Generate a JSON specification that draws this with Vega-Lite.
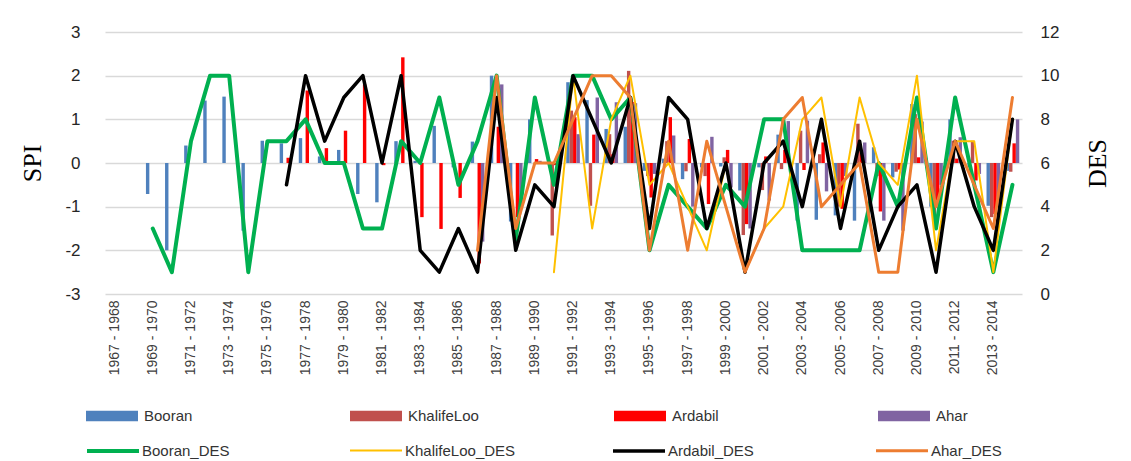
{
"$schema":"https://vega.github.io/schema/vega-lite/v6.json",
"width":917,"height":262,
"autosize":{"type":"none"},
"padding":{"left":105,"top":32,"right":109,"bottom":167},
"background":"white",
"config":{"view":{"stroke":null},"font":"Liberation Sans"},
"datasets":{
"spi":[
{"period":"1969 - 1970","station":"Booran","spi":-0.71},{"period":"1970 - 1971","station":"Booran","spi":-2.0},{"period":"1971 - 1972","station":"Booran","spi":0.4},{"period":"1972 - 1973","station":"Booran","spi":1.43},{"period":"1973 - 1974","station":"Booran","spi":1.52},{"period":"1974 - 1975","station":"Booran","spi":-1.55},{"period":"1975 - 1976","station":"Booran","spi":0.51},{"period":"1976 - 1977","station":"Booran","spi":0.45},{"period":"1977 - 1978","station":"Booran","spi":0.57},{"period":"1978 - 1979","station":"Booran","spi":0.15},{"period":"1979 - 1980","station":"Booran","spi":0.3},{"period":"1980 - 1981","station":"Booran","spi":-0.71},{"period":"1981 - 1982","station":"Booran","spi":-0.9},{"period":"1982 - 1983","station":"Booran","spi":0.5},{"period":"1983 - 1984","station":"Booran","spi":0.05},{"period":"1984 - 1985","station":"Booran","spi":0.85},{"period":"1985 - 1986","station":"Booran","spi":-0.1},{"period":"1986 - 1987","station":"Booran","spi":0.49},{"period":"1987 - 1988","station":"Booran","spi":2.0},{"period":"1988 - 1989","station":"Booran","spi":-1.34},{"period":"1989 - 1990","station":"Booran","spi":1.0},{"period":"1990 - 1991","station":"Booran","spi":0.05},{"period":"1991 - 1992","station":"Booran","spi":1.85},{"period":"1992 - 1993","station":"Booran","spi":1.44},{"period":"1993 - 1994","station":"Booran","spi":0.78},{"period":"1994 - 1995","station":"Booran","spi":0.83},{"period":"1995 - 1996","station":"Booran","spi":-0.18},{"period":"1996 - 1997","station":"Booran","spi":0.1},{"period":"1997 - 1998","station":"Booran","spi":-0.37},{"period":"1998 - 1999","station":"Booran","spi":-0.1},{"period":"1999 - 2000","station":"Booran","spi":-0.08},{"period":"2000 - 2001","station":"Booran","spi":-0.63},{"period":"2001 - 2002","station":"Booran","spi":-0.1},{"period":"2002 - 2003","station":"Booran","spi":0.65},{"period":"2003 - 2004","station":"Booran","spi":-1.32},{"period":"2004 - 2005","station":"Booran","spi":-1.3},{"period":"2005 - 2006","station":"Booran","spi":-1.2},{"period":"2006 - 2007","station":"Booran","spi":-1.32},{"period":"2007 - 2008","station":"Booran","spi":0.36},{"period":"2008 - 2009","station":"Booran","spi":-0.33},{"period":"2009 - 2010","station":"Booran","spi":1.35},{"period":"2010 - 2011","station":"Booran","spi":-1.0},{"period":"2011 - 2012","station":"Booran","spi":1.0},{"period":"2012 - 2013","station":"Booran","spi":-0.1},{"period":"2013 - 2014","station":"Booran","spi":-0.98},{"period":"2014 - 2015","station":"Booran","spi":-0.18},
{"period":"1990 - 1991","station":"KhalifeLoo","spi":-1.66},{"period":"1991 - 1992","station":"KhalifeLoo","spi":1.2},{"period":"1992 - 1993","station":"KhalifeLoo","spi":-0.98},{"period":"1993 - 1994","station":"KhalifeLoo","spi":0.66},{"period":"1994 - 1995","station":"KhalifeLoo","spi":2.11},{"period":"1995 - 1996","station":"KhalifeLoo","spi":-0.3},{"period":"1996 - 1997","station":"KhalifeLoo","spi":0.5},{"period":"1997 - 1998","station":"KhalifeLoo","spi":-0.19},{"period":"1998 - 1999","station":"KhalifeLoo","spi":-0.3},{"period":"1999 - 2000","station":"KhalifeLoo","spi":0.13},{"period":"2000 - 2001","station":"KhalifeLoo","spi":-1.65},{"period":"2001 - 2002","station":"KhalifeLoo","spi":-0.62},{"period":"2002 - 2003","station":"KhalifeLoo","spi":-0.14},{"period":"2003 - 2004","station":"KhalifeLoo","spi":0.74},{"period":"2004 - 2005","station":"KhalifeLoo","spi":0.2},{"period":"2005 - 2006","station":"KhalifeLoo","spi":-1.0},{"period":"2006 - 2007","station":"KhalifeLoo","spi":0.9},{"period":"2007 - 2008","station":"KhalifeLoo","spi":-0.3},{"period":"2008 - 2009","station":"KhalifeLoo","spi":-0.2},{"period":"2009 - 2010","station":"KhalifeLoo","spi":1.12},{"period":"2010 - 2011","station":"KhalifeLoo","spi":-1.32},{"period":"2011 - 2012","station":"KhalifeLoo","spi":0.51},{"period":"2012 - 2013","station":"KhalifeLoo","spi":0.51},{"period":"2013 - 2014","station":"KhalifeLoo","spi":-1.24},{"period":"2014 - 2015","station":"KhalifeLoo","spi":-0.2},
{"period":"1976 - 1977","station":"Ardabil","spi":0.12},{"period":"1977 - 1978","station":"Ardabil","spi":1.66},{"period":"1978 - 1979","station":"Ardabil","spi":0.34},{"period":"1979 - 1980","station":"Ardabil","spi":0.74},{"period":"1980 - 1981","station":"Ardabil","spi":1.8},{"period":"1981 - 1982","station":"Ardabil","spi":-0.05},{"period":"1982 - 1983","station":"Ardabil","spi":2.42},{"period":"1983 - 1984","station":"Ardabil","spi":-1.24},{"period":"1984 - 1985","station":"Ardabil","spi":-1.51},{"period":"1985 - 1986","station":"Ardabil","spi":-0.8},{"period":"1986 - 1987","station":"Ardabil","spi":-2.3},{"period":"1987 - 1988","station":"Ardabil","spi":0.83},{"period":"1988 - 1989","station":"Ardabil","spi":-1.24},{"period":"1989 - 1990","station":"Ardabil","spi":0.09},{"period":"1990 - 1991","station":"Ardabil","spi":-0.05},{"period":"1991 - 1992","station":"Ardabil","spi":1.05},{"period":"1992 - 1993","station":"Ardabil","spi":0.65},{"period":"1993 - 1994","station":"Ardabil","spi":0.2},{"period":"1994 - 1995","station":"Ardabil","spi":1.4},{"period":"1995 - 1996","station":"Ardabil","spi":-0.79},{"period":"1996 - 1997","station":"Ardabil","spi":1.05},{"period":"1997 - 1998","station":"Ardabil","spi":0.55},{"period":"1998 - 1999","station":"Ardabil","spi":-0.94},{"period":"1999 - 2000","station":"Ardabil","spi":0.3},{"period":"2000 - 2001","station":"Ardabil","spi":-1.4},{"period":"2001 - 2002","station":"Ardabil","spi":0.15},{"period":"2002 - 2003","station":"Ardabil","spi":0.3},{"period":"2003 - 2004","station":"Ardabil","spi":-0.16},{"period":"2004 - 2005","station":"Ardabil","spi":0.47},{"period":"2005 - 2006","station":"Ardabil","spi":-1.05},{"period":"2006 - 2007","station":"Ardabil","spi":0.3},{"period":"2007 - 2008","station":"Ardabil","spi":-1.11},{"period":"2008 - 2009","station":"Ardabil","spi":-0.15},{"period":"2009 - 2010","station":"Ardabil","spi":0.13},{"period":"2010 - 2011","station":"Ardabil","spi":-0.86},{"period":"2011 - 2012","station":"Ardabil","spi":0.1},{"period":"2012 - 2013","station":"Ardabil","spi":-0.4},{"period":"2013 - 2014","station":"Ardabil","spi":-1.17},{"period":"2014 - 2015","station":"Ardabil","spi":0.45},
{"period":"1986 - 1987","station":"Ahar","spi":-1.8},{"period":"1987 - 1988","station":"Ahar","spi":1.8},{"period":"1988 - 1989","station":"Ahar","spi":-0.9},{"period":"1989 - 1990","station":"Ahar","spi":0.05},{"period":"1990 - 1991","station":"Ahar","spi":-0.1},{"period":"1991 - 1992","station":"Ahar","spi":0.66},{"period":"1992 - 1993","station":"Ahar","spi":1.5},{"period":"1993 - 1994","station":"Ahar","spi":1.39},{"period":"1994 - 1995","station":"Ahar","spi":1.37},{"period":"1995 - 1996","station":"Ahar","spi":-0.25},{"period":"1996 - 1997","station":"Ahar","spi":0.63},{"period":"1997 - 1998","station":"Ahar","spi":-1.0},{"period":"1998 - 1999","station":"Ahar","spi":0.6},{"period":"1999 - 2000","station":"Ahar","spi":-0.56},{"period":"2000 - 2001","station":"Ahar","spi":-1.5},{"period":"2001 - 2002","station":"Ahar","spi":-0.86},{"period":"2002 - 2003","station":"Ahar","spi":0.96},{"period":"2003 - 2004","station":"Ahar","spi":0.97},{"period":"2004 - 2005","station":"Ahar","spi":-0.65},{"period":"2005 - 2006","station":"Ahar","spi":-0.3},{"period":"2006 - 2007","station":"Ahar","spi":0.47},{"period":"2007 - 2008","station":"Ahar","spi":-1.32},{"period":"2008 - 2009","station":"Ahar","spi":-1.55},{"period":"2009 - 2010","station":"Ahar","spi":0.95},{"period":"2010 - 2011","station":"Ahar","spi":-0.5},{"period":"2011 - 2012","station":"Ahar","spi":0.59},{"period":"2012 - 2013","station":"Ahar","spi":-0.25},{"period":"2013 - 2014","station":"Ahar","spi":-1.0},{"period":"2014 - 2015","station":"Ahar","spi":1.0}
],
"des":[
{"period":"1969 - 1970","series":"Booran_DES","des":3},{"period":"1970 - 1971","series":"Booran_DES","des":1},{"period":"1971 - 1972","series":"Booran_DES","des":7},{"period":"1972 - 1973","series":"Booran_DES","des":10},{"period":"1973 - 1974","series":"Booran_DES","des":10},{"period":"1974 - 1975","series":"Booran_DES","des":1},{"period":"1975 - 1976","series":"Booran_DES","des":7},{"period":"1976 - 1977","series":"Booran_DES","des":7},{"period":"1977 - 1978","series":"Booran_DES","des":8},{"period":"1978 - 1979","series":"Booran_DES","des":6},{"period":"1979 - 1980","series":"Booran_DES","des":6},{"period":"1980 - 1981","series":"Booran_DES","des":3},{"period":"1981 - 1982","series":"Booran_DES","des":3},{"period":"1982 - 1983","series":"Booran_DES","des":7},{"period":"1983 - 1984","series":"Booran_DES","des":6},{"period":"1984 - 1985","series":"Booran_DES","des":9},{"period":"1985 - 1986","series":"Booran_DES","des":5},{"period":"1986 - 1987","series":"Booran_DES","des":7},{"period":"1987 - 1988","series":"Booran_DES","des":10},{"period":"1988 - 1989","series":"Booran_DES","des":2.5},{"period":"1989 - 1990","series":"Booran_DES","des":9},{"period":"1990 - 1991","series":"Booran_DES","des":5},{"period":"1991 - 1992","series":"Booran_DES","des":10},{"period":"1992 - 1993","series":"Booran_DES","des":10},{"period":"1993 - 1994","series":"Booran_DES","des":8},{"period":"1994 - 1995","series":"Booran_DES","des":9},{"period":"1995 - 1996","series":"Booran_DES","des":2},{"period":"1996 - 1997","series":"Booran_DES","des":5},{"period":"1997 - 1998","series":"Booran_DES","des":4},{"period":"1998 - 1999","series":"Booran_DES","des":3},{"period":"1999 - 2000","series":"Booran_DES","des":5},{"period":"2000 - 2001","series":"Booran_DES","des":4},{"period":"2001 - 2002","series":"Booran_DES","des":8},{"period":"2002 - 2003","series":"Booran_DES","des":8},{"period":"2003 - 2004","series":"Booran_DES","des":2},{"period":"2004 - 2005","series":"Booran_DES","des":2},{"period":"2005 - 2006","series":"Booran_DES","des":2},{"period":"2006 - 2007","series":"Booran_DES","des":2},{"period":"2007 - 2008","series":"Booran_DES","des":6},{"period":"2008 - 2009","series":"Booran_DES","des":4},{"period":"2009 - 2010","series":"Booran_DES","des":9},{"period":"2010 - 2011","series":"Booran_DES","des":3},{"period":"2011 - 2012","series":"Booran_DES","des":9},{"period":"2012 - 2013","series":"Booran_DES","des":5},{"period":"2013 - 2014","series":"Booran_DES","des":1},{"period":"2014 - 2015","series":"Booran_DES","des":5},
{"period":"1990 - 1991","series":"KhalifeLoo_DES","des":1},{"period":"1991 - 1992","series":"KhalifeLoo_DES","des":10},{"period":"1992 - 1993","series":"KhalifeLoo_DES","des":3},{"period":"1993 - 1994","series":"KhalifeLoo_DES","des":8},{"period":"1994 - 1995","series":"KhalifeLoo_DES","des":10},{"period":"1995 - 1996","series":"KhalifeLoo_DES","des":5},{"period":"1996 - 1997","series":"KhalifeLoo_DES","des":6},{"period":"1997 - 1998","series":"KhalifeLoo_DES","des":4},{"period":"1998 - 1999","series":"KhalifeLoo_DES","des":2},{"period":"1999 - 2000","series":"KhalifeLoo_DES","des":6},{"period":"2000 - 2001","series":"KhalifeLoo_DES","des":1},{"period":"2001 - 2002","series":"KhalifeLoo_DES","des":3},{"period":"2002 - 2003","series":"KhalifeLoo_DES","des":4},{"period":"2003 - 2004","series":"KhalifeLoo_DES","des":8},{"period":"2004 - 2005","series":"KhalifeLoo_DES","des":9},{"period":"2005 - 2006","series":"KhalifeLoo_DES","des":4},{"period":"2006 - 2007","series":"KhalifeLoo_DES","des":9},{"period":"2007 - 2008","series":"KhalifeLoo_DES","des":6},{"period":"2008 - 2009","series":"KhalifeLoo_DES","des":5},{"period":"2009 - 2010","series":"KhalifeLoo_DES","des":10},{"period":"2010 - 2011","series":"KhalifeLoo_DES","des":2},{"period":"2011 - 2012","series":"KhalifeLoo_DES","des":7},{"period":"2012 - 2013","series":"KhalifeLoo_DES","des":7},{"period":"2013 - 2014","series":"KhalifeLoo_DES","des":1},{"period":"2014 - 2015","series":"KhalifeLoo_DES","des":8},
{"period":"1976 - 1977","series":"Ardabil_DES","des":5},{"period":"1977 - 1978","series":"Ardabil_DES","des":10},{"period":"1978 - 1979","series":"Ardabil_DES","des":7},{"period":"1979 - 1980","series":"Ardabil_DES","des":9},{"period":"1980 - 1981","series":"Ardabil_DES","des":10},{"period":"1981 - 1982","series":"Ardabil_DES","des":6},{"period":"1982 - 1983","series":"Ardabil_DES","des":10},{"period":"1983 - 1984","series":"Ardabil_DES","des":2},{"period":"1984 - 1985","series":"Ardabil_DES","des":1},{"period":"1985 - 1986","series":"Ardabil_DES","des":3},{"period":"1986 - 1987","series":"Ardabil_DES","des":1},{"period":"1987 - 1988","series":"Ardabil_DES","des":9},{"period":"1988 - 1989","series":"Ardabil_DES","des":2},{"period":"1989 - 1990","series":"Ardabil_DES","des":5},{"period":"1990 - 1991","series":"Ardabil_DES","des":4},{"period":"1991 - 1992","series":"Ardabil_DES","des":10},{"period":"1992 - 1993","series":"Ardabil_DES","des":8},{"period":"1993 - 1994","series":"Ardabil_DES","des":6},{"period":"1994 - 1995","series":"Ardabil_DES","des":9},{"period":"1995 - 1996","series":"Ardabil_DES","des":3},{"period":"1996 - 1997","series":"Ardabil_DES","des":9},{"period":"1997 - 1998","series":"Ardabil_DES","des":8},{"period":"1998 - 1999","series":"Ardabil_DES","des":3},{"period":"1999 - 2000","series":"Ardabil_DES","des":6},{"period":"2000 - 2001","series":"Ardabil_DES","des":1},{"period":"2001 - 2002","series":"Ardabil_DES","des":6},{"period":"2002 - 2003","series":"Ardabil_DES","des":7},{"period":"2003 - 2004","series":"Ardabil_DES","des":4},{"period":"2004 - 2005","series":"Ardabil_DES","des":8},{"period":"2005 - 2006","series":"Ardabil_DES","des":3},{"period":"2006 - 2007","series":"Ardabil_DES","des":7},{"period":"2007 - 2008","series":"Ardabil_DES","des":2},{"period":"2008 - 2009","series":"Ardabil_DES","des":4},{"period":"2009 - 2010","series":"Ardabil_DES","des":5},{"period":"2010 - 2011","series":"Ardabil_DES","des":1},{"period":"2011 - 2012","series":"Ardabil_DES","des":7},{"period":"2012 - 2013","series":"Ardabil_DES","des":4},{"period":"2013 - 2014","series":"Ardabil_DES","des":2},{"period":"2014 - 2015","series":"Ardabil_DES","des":8},
{"period":"1986 - 1987","series":"Ahar_DES","des":2},{"period":"1987 - 1988","series":"Ahar_DES","des":10},{"period":"1988 - 1989","series":"Ahar_DES","des":3},{"period":"1989 - 1990","series":"Ahar_DES","des":6},{"period":"1990 - 1991","series":"Ahar_DES","des":6},{"period":"1991 - 1992","series":"Ahar_DES","des":8},{"period":"1992 - 1993","series":"Ahar_DES","des":10},{"period":"1993 - 1994","series":"Ahar_DES","des":10},{"period":"1994 - 1995","series":"Ahar_DES","des":9},{"period":"1995 - 1996","series":"Ahar_DES","des":2},{"period":"1996 - 1997","series":"Ahar_DES","des":7},{"period":"1997 - 1998","series":"Ahar_DES","des":2},{"period":"1998 - 1999","series":"Ahar_DES","des":7},{"period":"1999 - 2000","series":"Ahar_DES","des":4},{"period":"2000 - 2001","series":"Ahar_DES","des":1},{"period":"2001 - 2002","series":"Ahar_DES","des":3},{"period":"2002 - 2003","series":"Ahar_DES","des":8},{"period":"2003 - 2004","series":"Ahar_DES","des":9},{"period":"2004 - 2005","series":"Ahar_DES","des":4},{"period":"2005 - 2006","series":"Ahar_DES","des":5},{"period":"2006 - 2007","series":"Ahar_DES","des":6},{"period":"2007 - 2008","series":"Ahar_DES","des":1},{"period":"2008 - 2009","series":"Ahar_DES","des":1},{"period":"2009 - 2010","series":"Ahar_DES","des":8},{"period":"2010 - 2011","series":"Ahar_DES","des":4},{"period":"2011 - 2012","series":"Ahar_DES","des":7},{"period":"2012 - 2013","series":"Ahar_DES","des":5},{"period":"2013 - 2014","series":"Ahar_DES","des":3},{"period":"2014 - 2015","series":"Ahar_DES","des":9}
]
},
"layer":[
{
"data":{"name":"spi"},
"mark":{"type":"bar"},
"encoding":{
"x":{"field":"period","type":"nominal","title":null,
"scale":{"domain":["1967 - 1968","1968 - 1969","1969 - 1970","1970 - 1971","1971 - 1972","1972 - 1973","1973 - 1974","1974 - 1975","1975 - 1976","1976 - 1977","1977 - 1978","1978 - 1979","1979 - 1980","1980 - 1981","1981 - 1982","1982 - 1983","1983 - 1984","1984 - 1985","1985 - 1986","1986 - 1987","1987 - 1988","1988 - 1989","1989 - 1990","1990 - 1991","1991 - 1992","1992 - 1993","1993 - 1994","1994 - 1995","1995 - 1996","1996 - 1997","1997 - 1998","1998 - 1999","1999 - 2000","2000 - 2001","2001 - 2002","2002 - 2003","2003 - 2004","2004 - 2005","2005 - 2006","2006 - 2007","2007 - 2008","2008 - 2009","2009 - 2010","2010 - 2011","2011 - 2012","2012 - 2013","2013 - 2014","2014 - 2015"],"paddingInner":0,"paddingOuter":0},
"axis":{"values":["1967 - 1968","1969 - 1970","1971 - 1972","1973 - 1974","1975 - 1976","1977 - 1978","1979 - 1980","1981 - 1982","1983 - 1984","1985 - 1986","1987 - 1988","1989 - 1990","1991 - 1992","1993 - 1994","1995 - 1996","1997 - 1998","1999 - 2000","2001 - 2002","2003 - 2004","2005 - 2006","2007 - 2008","2009 - 2010","2011 - 2012","2013 - 2014"],"labelAngle":270,"labelFontSize":14,"labelPadding":6,"labelColor":"#404040","ticks":false,"domain":false,"grid":false}},
"xOffset":{"field":"station","type":"nominal","scale":{"domain":["Booran","KhalifeLoo","Ardabil","Ahar"],"paddingInner":0,"paddingOuter":0.8}},
"y":{"field":"spi","type":"quantitative","scale":{"domain":[-3,3],"nice":false,"zero":false},
"axis":{"orient":"left","values":[-3,-2,-1,0,1,2,3],"labelExpr":"'' + datum.value","grid":true,"gridColor":"#d9d9d9","gridWidth":1.5,"domain":false,"ticks":false,"labelFontSize":17,"labelPadding":25,"labelColor":"#262626","title":"SPI","titleFont":"Liberation Serif","titleFontSize":26,"titleFontWeight":"normal","titleColor":"#000000","titleAngle":270,"titleX":-73,"titleY":131,"titleAlign":"center","titleBaseline":"middle"}},
"fill":{"field":"station","type":"nominal","scale":{"domain":["Booran","KhalifeLoo","Ardabil","Ahar"],"range":["#4f81bd","#c0504d","#ff0000","#8064a2"]},
"legend":{"title":null,"orient":"none","legendX":-20,"legendY":357,"direction":"horizontal","columns":4,"columnPadding":134,"gridAlign":"all","symbolType":"M-1,-0.206H1V0.206H-1Z","symbolSize":2704,"labelFontSize":15,"labelOffset":5,"labelColor":"#333333","padding":0}}
}
},
{
"data":{"name":"des"},
"encoding":{
"x":{"field":"period","type":"nominal","scale":{"domain":["1967 - 1968","1968 - 1969","1969 - 1970","1970 - 1971","1971 - 1972","1972 - 1973","1973 - 1974","1974 - 1975","1975 - 1976","1976 - 1977","1977 - 1978","1978 - 1979","1979 - 1980","1980 - 1981","1981 - 1982","1982 - 1983","1983 - 1984","1984 - 1985","1985 - 1986","1986 - 1987","1987 - 1988","1988 - 1989","1989 - 1990","1990 - 1991","1991 - 1992","1992 - 1993","1993 - 1994","1994 - 1995","1995 - 1996","1996 - 1997","1997 - 1998","1998 - 1999","1999 - 2000","2000 - 2001","2001 - 2002","2002 - 2003","2003 - 2004","2004 - 2005","2005 - 2006","2006 - 2007","2007 - 2008","2008 - 2009","2009 - 2010","2010 - 2011","2011 - 2012","2012 - 2013","2013 - 2014","2014 - 2015"]}},
"y":{"field":"des","type":"quantitative","scale":{"domain":[0,12],"nice":false},
"axis":{"orient":"right","values":[0,2,4,6,8,10,12],"grid":false,"domain":false,"ticks":false,"labelFontSize":17,"labelPadding":18,"labelColor":"#262626","title":"DES","titleFont":"Liberation Serif","titleFontSize":26,"titleFontWeight":"normal","titleColor":"#000000","titleAngle":270,"titleX":75,"titleY":131,"titleAlign":"center","titleBaseline":"middle"}},
"stroke":{"field":"series","type":"nominal","scale":{"domain":["Booran_DES","KhalifeLoo_DES","Ardabil_DES","Ahar_DES"],"range":["#00b050","#ffc000","#000000","#ed7d31"]},
"legend":{"title":null,"orient":"none","legendX":-20,"legendY":391,"direction":"horizontal","columns":4,"columnPadding":90,"gridAlign":"all","symbolType":"M-1,0H1","symbolSize":2704,"labelFontSize":15,"labelOffset":1,"labelColor":"#333333","padding":0}},
"strokeWidth":{"field":"series","type":"nominal","scale":{"type":"ordinal","domain":["Booran_DES","KhalifeLoo_DES","Ardabil_DES","Ahar_DES"],"range":[4,2,3.5,3]},
"legend":{"title":null,"orient":"none","legendX":-20,"legendY":391,"direction":"horizontal","columns":4,"columnPadding":90,"gridAlign":"all","symbolType":"M-1,0H1","symbolSize":2704,"labelFontSize":15,"labelOffset":1,"labelColor":"#333333","padding":0}}
},
"layer":[
{"transform":[{"filter":"datum.series == 'Booran_DES'"}],"mark":{"type":"line","strokeJoin":"round","strokeCap":"round"}},
{"transform":[{"filter":"datum.series == 'KhalifeLoo_DES'"}],"mark":{"type":"line","strokeJoin":"round","strokeCap":"round"}},
{"transform":[{"filter":"datum.series == 'Ardabil_DES'"}],"mark":{"type":"line","strokeJoin":"round","strokeCap":"round"}},
{"transform":[{"filter":"datum.series == 'Ahar_DES'"}],"mark":{"type":"line","strokeJoin":"round","strokeCap":"round"}}
]
}
],
"resolve":{"scale":{"y":"independent"}}
}
